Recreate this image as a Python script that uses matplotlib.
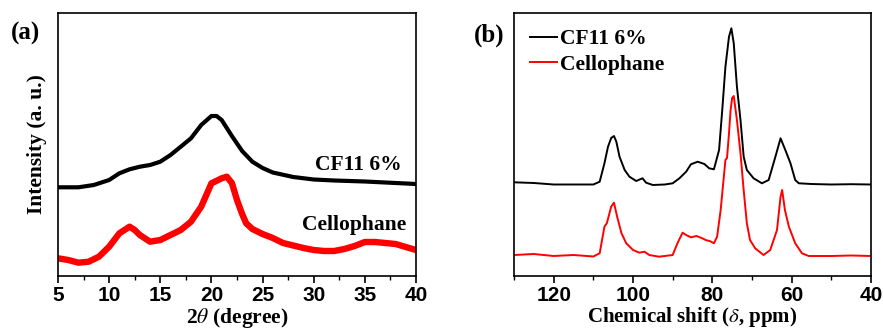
import matplotlib
matplotlib.use('Agg')
import matplotlib.pyplot as plt

plt.rcParams['mathtext.fontset'] = 'stix'

# (a) XRD, intensidad en unidades arbitrarias
xrd_cf11_x = [5, 7, 8.5, 10, 11, 12, 13, 14, 15, 16, 17, 18, 19, 20, 20.5, 21, 22, 23,
              24, 25, 26, 28, 30, 32, 35, 40]
xrd_cf11_y = [88.7, 88.7, 91, 96, 102.7, 106.7, 109.3, 111, 114.3, 121, 129.3, 137.7, 151,
              160, 160, 156, 140, 125, 114.3, 108, 103.5, 99, 96.5, 95.5, 94.5, 92]
xrd_cello_x = [5, 6, 7, 8, 9, 10, 11, 12, 12.5, 13, 14, 15, 16, 17, 18, 19, 20, 21, 21.5,
               22, 22.5, 23, 23.4, 24, 25, 26, 27, 28, 29, 30, 31, 32, 33, 34, 35, 36, 37,
               38, 39, 40]
xrd_cello_y = [17.7, 16, 13.3, 14.3, 19.3, 29.3, 42.7, 49.3, 46, 41, 34.3, 36, 41, 46, 54.3,
               69.3, 92.7, 97.7, 99.3, 93, 76, 62, 52.7, 47, 42, 38, 33, 30.5, 28, 26, 25,
               25, 27, 30, 34, 34, 33, 32, 29, 26]

# (b) 13C NMR
nmr_cf11_x = [130, 125, 120, 115, 110, 108.4, 107.2, 106.3, 105.5, 104.8, 104.2, 103.4,
              102.1, 100.9, 99.2, 97.6, 96.7, 95.0, 92, 90.0, 88.3, 86.6, 85.4, 83.7, 82.0,
              80.8, 79.6, 78.3, 77.5, 76.7, 75.8, 75.2, 74.6, 73.8, 72.9, 72.1, 71.3, 69.6,
              67.5, 65.8, 64.1, 62.8, 61.6, 60.3, 59.1, 58.2, 55, 50, 45, 40]
nmr_cf11_y = [93.7, 93, 91.5, 91.5, 91.5, 94.3, 112.7, 129.3, 138, 140, 134.3, 119.3, 106,
              99.3, 95, 97.7, 93.3, 91, 91.5, 92.7, 97.7, 104.3, 111.7, 114.3, 112, 107.7,
              106.7, 126, 166, 209.3, 239.3, 247.7, 232.7, 189.3, 156, 119.3, 106, 97.7,
              92.7, 96, 119.3, 137.7, 126, 112.7, 96, 92.7, 92, 91.5, 91.8, 91.5]
nmr_cello_x = [130, 125, 120, 115, 110, 108.4, 107.2, 106.6, 105.5, 104.8, 104.0, 102.9,
               101.7, 100.0, 98.4, 97.1, 95.9, 93.4, 90.0, 88.8, 87.5, 86.6, 85.4, 84.0,
               82.5, 81.7, 80.5, 79.6, 78.8, 77.9, 76.7, 76.3, 75.8, 75.4, 75.0, 74.6, 73.8,
               72.9, 72.1, 71.3, 70.5, 69.2, 67.1, 65.4, 63.7, 62.8, 62.4, 61.7, 60.7, 59.1,
               57.4, 55.7, 50, 45, 40]
nmr_cello_y = [21, 22, 20, 21, 19.5, 22.7, 49.3, 52.7, 69.3, 73.3, 59.3, 42.7, 32.7, 26,
               23.3, 24.3, 21, 19.3, 21, 32.7, 43.3, 41, 38.7, 40, 37.7, 36, 34.7, 32.7,
               39.3, 66, 116, 118, 142.7, 166, 178, 180, 156, 122.7, 86, 52.7, 36, 27.7, 21,
               26, 46, 79.3, 86, 66, 49.3, 32.7, 22.7, 20, 20, 20.5, 20]

W, H = 883, 334
fig = plt.figure(figsize=(W / 100, H / 100), dpi=100)
ax1 = fig.add_axes([58 / W, (H - 276) / H, 358 / W, 263 / H])
ax2 = fig.add_axes([514 / W, (H - 276) / H, 357 / W, 263 / H])

serif = {'family': 'Liberation Serif', 'weight': 'bold'}
FS = 15.5

ax1.plot(xrd_cf11_x, xrd_cf11_y, color='black', lw=3.0)
ax1.plot(xrd_cello_x, xrd_cello_y, color='red', lw=4.6)
ax1.set_xlim(5, 40)
ax1.set_ylim(0, 263)
ax1.set_xticks(range(5, 41, 5))
ax1.set_xticks([x + 2.5 for x in range(5, 40, 5)], minor=True)
ax1.text(38.6, 111, 'CF11 6%', ha='right', va='center', fontsize=FS, **serif)
ax1.text(39.0, 51, 'Cellophane', ha='right', va='center', fontsize=FS, **serif)
ax1.set_xlabel(r'2$\it{\theta}$ (degree)', fontsize=FS, labelpad=1, **serif)
ax1.set_ylabel('Intensity (a. u.)', fontsize=FS, labelpad=8, **serif)

ax2.plot(nmr_cf11_x, nmr_cf11_y, color='black', lw=1.4, label='CF11 6%')
ax2.plot(nmr_cello_x, nmr_cello_y, color='red', lw=1.4, label='Cellophane')
ax2.set_xlim(130, 40)
ax2.set_ylim(0, 263)
ax2.set_xticks(range(120, 39, -20))
ax2.set_xticks(range(130, 40, -20), minor=True)
ax2.set_xlabel(r'Chemical shift ($\delta$, ppm)', fontsize=15, labelpad=0, **serif)
ax2.legend(loc='upper left', bbox_to_anchor=(0.0, 1.0), frameon=False,
           prop={'family': 'Liberation Serif', 'weight': 'bold', 'size': FS},
           handlelength=1.25, handletextpad=0.15, labelspacing=0.25, borderaxespad=0.35)

for ax in (ax1, ax2):
    ax.set_yticks([])
    for sp in ax.spines.values():
        sp.set_linewidth(1.2)
    ax.tick_params(axis='x', which='major', direction='out', length=5, width=1.2,
                   labelsize=15, pad=2)
    ax.tick_params(axis='x', which='minor', direction='out', length=3, width=1.0)
    for lab in ax.get_xticklabels():
        lab.set_fontfamily('Liberation Sans')
        lab.set_fontweight('bold')

fig.text(25 / W, 1 - 33 / H, '(a)', ha='center', va='center', fontsize=18, **serif)
fig.text(489 / W, 1 - 35 / H, '(b)', ha='center', va='center', fontsize=18, **serif)

fig.savefig('out.png', dpi=100)
